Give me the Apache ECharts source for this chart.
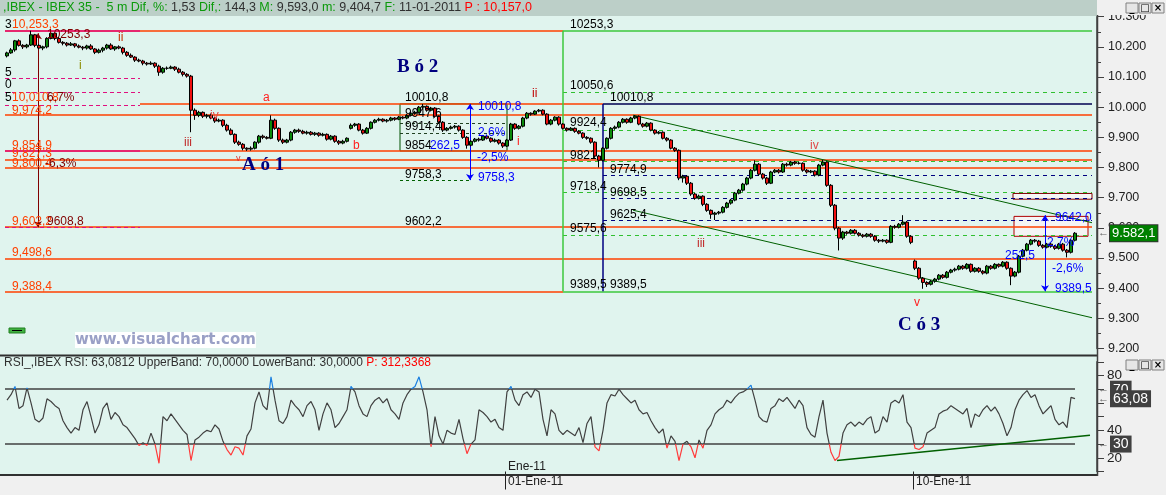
<!DOCTYPE html>
<html><head><meta charset="utf-8">
<script src="https://cdn.jsdelivr.net/npm/echarts@6/dist/echarts.min.js"></script>
<style>html,body{margin:0;padding:0;background:#e0f4ee}#c{width:1166px;height:495px}</style>
</head><body><div id="c"></div>
<script>
// ---- DATA (5-min bars, consolidated) ----
const opens = [10170,10180,10190,10220,10205,10200,10206,10240,10205,10196,
10200,10228,10245,10228,10215,10212,10206,10210,10203,10199,
10196,10203,10193,10182,10189,10196,10206,10193,10200,10196,
10182,10172,10166,10156,10153,10146,10143,10146,10136,10116,
10129,10129,10133,10126,10116,10109,10103,9990,9973,9983,
9970,9973,9964,9954,9957,9940,9924,9910,9884,9877,
9864,9861,9864,9884,9904,9900,9897,9957,9930,9891,
9884,9891,9917,9924,9920,9914,9917,9910,9914,9907,
9910,9894,9904,9887,9881,9887,9930,9940,9944,9924,
9914,9930,9950,9957,9960,9954,9957,9964,9960,9967,
9964,9973,9980,9983,10000,10003,9990,9997,9970,9950,
9924,9930,9934,9937,9924,9900,9874,9887,9894,9891,
9904,9897,9887,9891,9881,9871,9891,9944,9930,9937,
9964,9980,9977,9987,9990,9977,9944,9957,9967,9944,
9930,9924,9930,9920,9914,9900,9897,9884,9838,9824,
9864,9897,9930,9934,9950,9960,9950,9964,9970,9944,
9937,9947,9924,9914,9917,9897,9891,9864,9857,9765,
9771,9748,9712,9698,9705,9678,9658,9645,9649,9652,
9668,9682,9692,9715,9725,9745,9765,9791,9811,9778,
9765,9748,9785,9791,9785,9811,9808,9818,9814,9814,
9791,9785,9788,9775,9808,9818,9741,9675,9599,9566,
9586,9582,9592,9582,9576,9572,9579,9572,9559,9556,
9559,9552,9605,9602,9612,9619,9572,9490,9466,9433,
9419,9413,9423,9430,9443,9436,9453,9460,9463,9473,
9466,9479,9456,9466,9456,9450,9473,9466,9479,9473,
9486,9466,9440,9453,9506,9526,9546,9559,9556,9542,
9536,9546,9539,9532,9546,9526,9519,9559];
const closes = [10180,10190,10220,10205,10200,10206,10240,10205,10196,10200,
10228,10245,10228,10215,10212,10206,10210,10203,10199,10196,
10203,10193,10182,10189,10196,10206,10193,10200,10196,10182,
10172,10166,10156,10153,10146,10143,10146,10136,10116,10129,
10129,10133,10126,10116,10109,10103,9990,9973,9983,9970,
9973,9964,9954,9957,9940,9924,9910,9884,9877,9864,
9861,9864,9884,9904,9900,9897,9957,9930,9891,9884,
9891,9917,9924,9920,9914,9917,9910,9914,9907,9910,
9894,9904,9887,9881,9887,9897,9940,9944,9924,9914,
9930,9950,9957,9960,9954,9957,9964,9960,9967,9964,
9973,9980,9983,10000,10003,9990,9997,9970,9950,9924,
9930,9934,9937,9924,9900,9874,9887,9894,9891,9904,
9897,9887,9891,9881,9871,9891,9944,9930,9937,9964,
9980,9977,9987,9990,9977,9944,9957,9967,9944,9930,
9924,9930,9920,9914,9900,9897,9884,9838,9824,9864,
9897,9930,9934,9950,9960,9950,9964,9970,9944,9937,
9947,9924,9914,9917,9897,9891,9864,9857,9765,9771,
9748,9712,9698,9705,9678,9658,9645,9649,9652,9668,
9682,9692,9715,9725,9745,9765,9791,9811,9778,9765,
9748,9785,9791,9785,9811,9808,9818,9814,9814,9791,
9785,9788,9775,9808,9818,9741,9675,9599,9566,9586,
9582,9592,9582,9576,9572,9579,9572,9559,9556,9559,
9552,9605,9602,9612,9619,9572,9552,9466,9433,9419,
9413,9423,9430,9443,9436,9453,9460,9463,9473,9466,
9479,9456,9466,9456,9450,9473,9466,9479,9473,9486,
9466,9440,9453,9506,9526,9546,9559,9556,9542,9536,
9546,9539,9532,9546,9526,9519,9559,9582.1];
const lows = [10165,10177,10184,10201,10193,10195,10203,10199,10192,10189,
10195,10225,10222,10211,10205,10201,10203,10197,10195,10189,
10191,10190,10176,10178,10182,10191,10190,10187,10192,10175,
10167,10163,10150,10149,10139,10138,10140,10130,10104,10111,
10124,10126,10120,10112,10102,10098,9917,9958,9967,9964,
9963,9960,9948,9950,9934,9919,9907,9878,9872,9857,
9855,9856,9860,9879,9894,9893,9894,9925,9885,9878,
9880,9887,9912,9915,9910,9909,9906,9905,9902,9903,
9889,9890,9882,9875,9877,9883,9926,9935,9920,9909,
9911,9926,9946,9953,9950,9949,9953,9955,9957,9960,
9960,9969,9975,9979,9995,9985,9986,9965,9945,9918,
9920,9926,9929,9919,9895,9862.5,9870,9883,9886,9888,
9893,9882,9883,9876,9865,9868,9888,9925,9926,9933,
9960,9972,9974,9983,9973,9940,9940,9953,9939,9926,
9919,9921,9915,9910,9895,9892,9879,9832,9800.5,9820,
9860,9893,9925,9930,9946,9945,9947,9960,9940,9932,
9933,9920,9909,9910,9893,9886,9860,9852,9758,9750,
9742,9706,9693,9694,9672,9653,9630,9626,9644,9648,
9664,9677,9688,9711,9720,9741,9761,9787,9772,9760,
9742,9745,9781,9780,9782,9803,9804,9809,9810,9786,
9780,9781,9770,9771,9804,9736,9669,9592,9525,9560,
9577,9578,9578,9571,9567,9568,9567,9554,9550,9552,
9547,9549,9597,9598,9608,9567,9546,9460,9428,9398,
9404,9409,9418,9426,9431,9432,9449,9455,9459,9461,
9462,9451,9452,9451,9445,9446,9461,9462,9468,9469,
9461,9410,9436,9449,9502,9522,9542,9551,9537,9531,
9532,9534,9527,9528,9521,9502,9515,9555];
const highs = [10184,10196,10223,10225,10209,10210,10253.3,10243,10210,10204,
10232,10253,10248,10233,10219,10216,10216,10213,10208,10203,
10207,10209,10196,10194,10200,10210,10212,10203,10205,10200,
10186,10178,10169,10161,10157,10150,10152,10149,10141,10133,
10135,10138,10136,10131,10120,10113,10107,9996,9988,9986,
9978,9979,9967,9962,9960,9945,9930,9913,9889,9881,
9867,9870,9887,9908,9909,9904,9973,9962,9933,9896,
9895,9921,9928,9929,9925,9922,9921,9918,9917,9915,
9913,9908,9907,9891,9892,9900,9946,9948,9947,9928,
9934,9953,9961,9965,9963,9961,9968,9967,9971,9970,
9977,9984,9988,10004,10010.8,10006,10001,10000,9973,9954,
9934,9939,9941,9940,9927,9904,9891,9898,9899,9908,
9908,9900,9896,9894,9884,9895,9948,9947,9941,9968,
9984,9983,9990,9994,9993,9980,9961,9970,9970,9947,
9933,9934,9933,9924,9917,9904,9900,9887,9842,9868,
9900,9934,9939,9954,9964,9963,9968,9974.2,9973,9948,
9951,9950,9927,9921,9920,9901,9894,9868,9860,9776,
9775,9752,9716,9710,9708,9682,9661,9653,9656,9672,
9686,9696,9719,9729,9749,9769,9795,9824,9815,9782,
9769,9789,9795,9795,9815,9816,9822,9822,9819,9817,
9795,9792,9791,9812,9825,9821,9745,9679,9603,9590,
9590,9596,9596,9586,9580,9583,9583,9576,9563,9563,
9562,9609,9610,9616,9642,9623,9576,9495,9470,9437,
9423,9427,9434,9447,9447,9457,9464,9468,9477,9477,
9483,9482,9470,9470,9460,9477,9477,9483,9482,9490,
9489,9469,9457,9510,9530,9550,9563,9563,9560,9546,
9550,9550,9543,9550,9550,9530,9563,9586];
const rsi = [62,66,72,56,58,71,60,48,46,49,
63,61,58,56,47,42,38,42,40,55,
61,50,38,44,56,60,48,53,50,44,
42,38,34,29,31,29,38,30,16,50,
47,52,48,44,40,37,18,33,35,38,
40,39,44,41,32,26,22,28,27,22,
36,41,60,68,58,55,79,62,47,45,
50,62,58,55,50,58,61,55,40,52,
60,55,42,45,50,55,72,68,58,52,
50,58,62,64,60,63,55,52,48,60,
66,70,72,79,68,55,28,50,36,30,
40,38,37,48,34,23,30,33,55,53,
50,46,48,42,40,68,72,62,58,66,
68,64,70,68,48,36,55,52,40,37,
40,38,36,42,31,45,50,28,25,40,
60,66,65,70,66,63,60,62,55,52,
53,47,42,38,41,27,36,32,18,30,
32,28,20,33,27,40,44,52,55,57,
62,60,64,67,68,70,73,62,50,47,
46,56,58,63,61,64,60,56,62,58,
42,37,35,50,62,38,24,18,21,38,
44,46,43,46,44,48,50,38,40,50,
46,60,62,60,66,46,42,27,26,28,
38,40,42,52,54,55,58,56,54,52,
56,42,52,50,55,58,54,57,52,45,
36,42,55,62,66,69,64,66,58,52,
55,58,48,44,46,42,64,63.08];
const dateTickPos = [124.5, 226.5];
const dateTickTop = ['Ene-11', ' '];
const dateTickBottom = ['01-Ene-11', '10-Ene-11'];
const lastPrice = 9582.1;
const lastRsi = 63.08;
const upperBand = 70, lowerBand = 30;

// ---- CHART ----
const FONT = 'Liberation Sans';
const chart = echarts.init(document.getElementById('c'));
const candleData = closes.map((c, i) => [i, opens[i], c, lows[i], highs[i]]);
const rsiData = rsi.map((r, i) => [i, r]);

const ORANGE = '#ff4000', MAG = '#e0107f', GREEN = '#30c030', GREEN2 = '#3cc83c',
      NAVY = '#000080', DGREEN = '#006000', BLUE = '#0000ff', DRED = '#800000';
const L = -0.5, R = 271.25, XG = 139, XN = 149, XM = 33.25;
const CLEAR = 'rgba(0,0,0,0)';

function H(p, a, b, color, width, type) {
  return [{coord: [a, p], lineStyle: {color: color, width: width || 1, type: type || 'solid'}}, {coord: [b, p]}];
}
function V(v, p1, p2, color, width, arrows) {
  const s = arrows ? 'arrow' : 'none';
  return [{coord: [v, p1], symbol: s, lineStyle: {color: color, width: width || 1, type: 'solid'}}, {coord: [v, p2], symbol: s}];
}
function T(text, v, p, color, size, extra) {
  return {coord: [v, p], symbol: 'circle', symbolSize: 0,
    label: Object.assign({show: true, position: 'right', distance: 0, formatter: text,
      color: color || '#000', fontSize: size || 12, fontFamily: FONT}, extra || {})};
}
const DASH = [4, 3];
const mainLines = [
  H(10253.3, L, XG, ORANGE, 1.5), H(10253.3, L, XM, MAG, 1.5), H(10253.3, XG, R, GREEN2, 1.5),
  H(10095, L, XM, MAG, 1, DASH), H(10049, L, XM, MAG, 1, DASH), H(10008, L, XM, MAG, 1, DASH),
  H(10010.8, XM, XN, ORANGE, 1.5), H(10010.8, XN, R, '#000050', 1.5),
  H(9974.2, L, R, ORANGE, 1.5),
  H(9854.9, L, R, ORANGE, 1.5), H(9854.9, L, XM, MAG, 1.5),
  H(9827.3, L, R, ORANGE, 1.5), H(9800.4, L, R, ORANGE, 1.5),
  H(9602.2, L, R, ORANGE, 1.5), H(9602.2, L, XM, MAG, 1, DASH),
  H(9498.6, L, R, ORANGE, 1.5),
  H(9388.4, L, XG, ORANGE, 1.5), H(9389.5, XG, R, GREEN2, 1.5),
  H(10050.6, XG, R, GREEN, 1, [4, 4]), H(9924.4, XG, R, GREEN, 1, [4, 4]), H(9821, XG, R, GREEN, 1, [4, 4]),
  H(9718.4, XG, R, GREEN, 1, [4, 4]), H(9575.6, XG, R, GREEN, 1, [4, 4]),
  H(9774.9, XN, R, NAVY, 1, [4, 4]), H(9698.5, XN, R, NAVY, 1, [4, 4]), H(9625.4, XN, R, NAVY, 1, [4, 4]),
  H(9947.6, 98.25, 125, '#204020', 1, [3, 3]), H(9914.4, 98.25, 125, '#204020', 1, [3, 3]),
  H(9758.3, 98.25, 115.75, DGREEN, 1, [3, 3]),
  V(XG, 10253.3, 9389.5, GREEN2, 1.5), V(XN, 10010.8, 9389.5, NAVY, 1.5),
  V(7.75, 10245, 9602, DRED, 1, true),
  V(115.75, 10010.8, 9758.3, BLUE, 1, true),
  V(259.5, 9642, 9389.5, BLUE, 1, true),
  [{coord: [156.5, 9973.5], lineStyle: {color: DGREEN, width: 1, type: 'solid'}}, {coord: [271.25, 9617]}],
  [{coord: [156.5, 9658.5], lineStyle: {color: DGREEN, width: 1, type: 'solid'}}, {coord: [271.25, 9302]}],
  {yAxis: lastPrice, lineStyle: {color: CLEAR, width: 0}, label: {show: true, position: 'end', distance: 1,
    formatter: '{a|←}{b|9.582,1}',
    rich: {a: {color: '#606060', fontSize: 11, padding: [0, 1, 0, 0]},
           b: {color: '#ffffff', backgroundColor: '#008000', borderColor: '#333', borderWidth: 1,
               fontSize: 13, fontFamily: FONT, padding: [2, 2, 1, 2]}}}}
];
const serifBold = {fontFamily: 'Liberation Serif', fontWeight: 'bold'};
const texts = [
  T('10,253,3', 1.25, 10272, ORANGE), T('10,010,8', 1.25, 10030, ORANGE), T('9,974,2', 1.25, 9990, ORANGE),
  T('9,854,9', 1.25, 9871, ORANGE), T('9,827,3', 1.25, 9847, ORANGE), T('9,800,4', 1.25, 9814, ORANGE),
  T('9,602,2', 1.25, 9619, ORANGE), T('9,498,6', 1.25, 9516, ORANGE), T('9,388,4', 1.25, 9406, ORANGE),
  T('3', -0.5, 10272, '#000'), T('5', -0.5, 10116, '#000'), T('0', -0.5, 10073, '#000'),
  T('5', -0.5, 10030, '#000'), T('14,5', -1, 9920, DRED),
  T('10253,3', 10, 10242, DRED), T('6,7%', 10, 10033, DRED), T('-6,3%', 9.5, 9814, DRED), T('9608,8', 10, 9619, DRED),
  T('i', 18, 10139, '#8c8c00'), T('ii', 27.75, 10229, '#c83000'), T('iii', 44.25, 9881, '#c02828'),
  T('iv', 50.75, 9973, '#e04848'), T('v', 57.25, 9831, '#e03030', 9), T('a', 64, 10030, '#ff2020'),
  T('b', 86.5, 9871, '#ff2020'), T('i', 127.5, 9884, '#ff2020'), T('ii', 131.25, 10046, '#c00000'),
  T('iii', 172.5, 9546, '#c02828'), T('iv', 200.75, 9871, '#e04848'), T('v', 226.75, 9353, '#ff2020'),
  T('B ó 2', 97.5, 10133, '#00007f', 19, serifBold), T('A ó 1', 58.75, 9808, '#00007f', 19, serifBold),
  T('C ó 3', 222.75, 9277, '#00007f', 19, serifBold),
  T('10010,8', 99.5, 10033, '#000'), T('9947,6', 99.5, 9980, '#000'), T('9914,4', 99.5, 9934, '#000'),
  T('9854', 99.5, 9871, '#000'), T('9758,3', 99.5, 9775, '#000'), T('9602,2', 99.5, 9619, '#000'),
  T('262,5', 105.75, 9871, BLUE), T('10010,8', 117.75, 10003, BLUE), T('2,6%', 117.75, 9917, BLUE),
  T('-2,5%', 117.5, 9831, BLUE), T('9758,3', 117.75, 9765, BLUE),
  T('10253,3', 140.75, 10272, '#000'), T('10050,6', 140.75, 10070, '#000'), T('9924,4', 140.75, 9947, '#000'),
  T('9821', 140.75, 9838, '#000'), T('9718,4', 140.75, 9738, '#000'), T('9575,6', 140.75, 9596, '#000'),
  T('9389,5', 140.75, 9413, '#000'),
  T('10010,8', 150.75, 10030, '#000'), T('9774,9', 150.75, 9794, '#000'), T('9698,5', 150.75, 9715, '#000'),
  T('9625,4', 150.75, 9645, '#000'), T('9389,5', 150.75, 9413, '#000'),
  T('9642,0', 262, 9635, BLUE), T('2,7%', 260, 9552, BLUE), T('-2,6%', 261.25, 9463, BLUE),
  T('9389,5', 262, 9397, BLUE), T('252,5', 249.5, 9509, BLUE)
];
const areas = [
  [{coord: [98.25, 10010.8], itemStyle: {color: CLEAR, borderColor: '#005000', borderWidth: 1}}, {coord: [125, 9854.9]}],
  [{coord: [251.5, 9714], itemStyle: {color: '#f6f6f6', borderColor: '#800000', borderWidth: 1}}, {coord: [271.25, 9695]}],
  [{coord: [251.75, 9638], itemStyle: {color: '#f4f4f4', borderColor: '#b00000', borderWidth: 1}}, {coord: [270.25, 9572]}]
];
function box(val, txt) {
  return {yAxis: val, lineStyle: {color: CLEAR, width: 0}, label: {show: true, position: 'end', distance: 1,
    formatter: '{a|←}{b|' + txt + '}',
    rich: {a: {color: '#606060', fontSize: 11, padding: [0, 1, 0, 0]},
           b: {color: '#ffffff', backgroundColor: '#404040', fontSize: 14, fontFamily: FONT, padding: [2, 3, 1, 3]}}}};
}
const rsiLines = [
  [{coord: [-0.5, upperBand], lineStyle: {color: '#404040', width: 1.5, type: 'solid'}}, {coord: [267, upperBand]}],
  [{coord: [-0.5, lowerBand], lineStyle: {color: '#404040', width: 1.5, type: 'solid'}}, {coord: [267, lowerBand]}],
  [{coord: [207.5, 18.1], lineStyle: {color: DGREEN, width: 1.5, type: 'solid'}}, {coord: [270.75, 36.5]}],
  box(upperBand, '70'), box(lastRsi, '63,08'), box(lowerBand, '30')
];

function btns(y) {
  const out = [];
  ['_', '□', '×'].forEach((s, k) => {
    out.push({type: 'rect', z: 101, shape: {x: 1126 + k * 13, y: y, width: 12, height: 10},
      style: {fill: '#e6e6e6', stroke: '#808080', lineWidth: 1}});
    out.push({type: 'text', z: 102, style: {text: s, x: 1132 + k * 13, y: y + 5, align: 'center',
      verticalAlign: 'middle', fill: '#000', font: 'bold 10px "DejaVu Sans"'}});
  });
  return out;
}

const option = {
  animation: false,
  backgroundColor: '#e0f4ee',
  textStyle: {fontFamily: FONT},
  title: [
    {left: 3, top: 1, padding: 0,
     text: '{g|,IBEX - IBEX 35 -  5 m Dif, %: }{k|1,53 }{g|Dif,: }{k|144,3 }{g|M: }{k|9,593,0 }{g|m: }{k|9,404,7 }{g|F: }{k|11-01-2011 }{r|P : 10,157,0}',
     textStyle: {fontSize: 12.5, fontWeight: 'normal', rich: {
       g: {color: '#0a9a0a', fontSize: 12.5, fontFamily: FONT},
       k: {color: '#303030', fontSize: 12.5, fontFamily: FONT},
       r: {color: '#ff0000', fontSize: 12.5, fontFamily: FONT}}}},
    {left: 4, top: 357, padding: 0,
     text: '{k|RSI_,IBEX RSI: 63,0812 UpperBand: 70,0000 LowerBand: 30,0000 }{r|P: 312,3368}',
     textStyle: {fontSize: 12, fontWeight: 'normal', rich: {
       k: {color: '#303030', fontSize: 12, fontFamily: FONT},
       r: {color: '#ff0000', fontSize: 12, fontFamily: FONT}}}}
  ],
  grid: [
    {left: 5, right: 69, top: 16.7, height: 331.8},
    {left: 5, right: 69, top: 361.75, height: 109.75}
  ],
  xAxis: [
    {type: 'value', gridIndex: 0, min: -0.5, max: 272.5, show: false},
    {type: 'value', gridIndex: 1, min: -0.5, max: 272.5,
     axisLine: {show: false, onZero: false}, splitLine: {show: false},
     axisTick: {show: true, customValues: dateTickPos, length: 18, lineStyle: {color: '#202020'}},
     axisLabel: {show: true, customValues: dateTickPos, align: 'left', margin: -12, padding: [0, 0, 0, 3],
       formatter: function (v) { const k = dateTickPos.indexOf(v); return k < 0 ? '' : '{u|' + dateTickTop[k] + '}\n{d|' + dateTickBottom[k] + '}'; },
       rich: {u: {fontSize: 12, lineHeight: 15, color: '#202020', fontFamily: FONT},
              d: {fontSize: 12, lineHeight: 15, color: '#202020', fontFamily: FONT}}}}
  ],
  yAxis: [
    {type: 'value', gridIndex: 0, position: 'right', min: 9200, max: 10300, interval: 100,
     axisLine: {show: true, onZero: false, lineStyle: {color: '#404040', width: 1.5}},
     axisTick: {show: true, length: 7, lineStyle: {color: '#404040'}},
     minorTick: {show: true, splitNumber: 2, length: 4, lineStyle: {color: '#404040'}},
     splitLine: {show: false},
     axisLabel: {margin: 11, fontSize: 12.5, color: '#202020', formatter: v => (v / 1000).toFixed(3)}},
    {type: 'value', gridIndex: 1, position: 'right', min: 10, max: 90, interval: 10,
     axisLine: {show: true, onZero: false, lineStyle: {color: '#404040', width: 1.5}},
     axisTick: {show: true, length: 7, lineStyle: {color: '#404040'}},
     splitLine: {show: false},
     axisLabel: {margin: 10, fontSize: 13.5, color: '#202020',
       formatter: v => (v === 20 || v === 40 || v === 80) ? String(v) : ''}}
  ],
  visualMap: [{type: 'piecewise', show: false, seriesIndex: 2, dimension: 1,
    pieces: [{lt: 30, color: '#ff3b3b'}, {gte: 30, lte: 70, color: '#404040'}, {gt: 70, color: '#1a7fe0'}]}],
  series: [
    {type: 'candlestick', xAxisIndex: 0, yAxisIndex: 0, z: 6, barWidth: 4, silent: true,
     encode: {x: 0, y: [1, 2, 3, 4]}, data: candleData,
     itemStyle: {color: '#0a8a0a', color0: '#f01010', borderColor: '#000', borderColor0: '#000', borderWidth: 1}},
    {type: 'line', xAxisIndex: 0, yAxisIndex: 0, data: [], silent: true,
     markLine: {silent: true, symbol: ['none', 'none'], symbolSize: 6, lineStyle: {type: 'solid'}, label: {show: false}, data: mainLines},
     markArea: {silent: true, label: {show: false}, data: areas},
     markPoint: {silent: true, z: 8, data: texts}},
    {type: 'line', xAxisIndex: 1, yAxisIndex: 1, data: rsiData, showSymbol: false, silent: true, z: 6,
     lineStyle: {width: 1.2},
     markLine: {silent: true, symbol: ['none', 'none'], lineStyle: {type: 'solid'}, label: {show: false}, data: rsiLines}}
  ],
  graphic: [
    {type: 'rect', z: -10, shape: {x: 1097, y: 0, width: 69, height: 495}, style: {fill: '#f0f0f0'}},
    {type: 'rect', z: -10, shape: {x: 0, y: 476, width: 1097, height: 19}, style: {fill: '#f0f0f0'}},
    {type: 'rect', z: -10, shape: {x: 0, y: 0, width: 1097, height: 16}, style: {fill: '#bccfc8'}},
    {type: 'rect', z: 100, shape: {x: 1097, y: 0, width: 69, height: 15}, style: {fill: '#f0f0f0'}},
    {type: 'line', z: 50, shape: {x1: 0, y1: 355.5, x2: 1097, y2: 355.5}, style: {stroke: '#303030', lineWidth: 2}},
    {type: 'line', z: 50, shape: {x1: 0, y1: 475, x2: 1097, y2: 475}, style: {stroke: '#303030', lineWidth: 2}},
    {type: 'line', z: 50, shape: {x1: 1097.5, y1: 15, x2: 1097.5, y2: 476}, style: {stroke: '#404040', lineWidth: 1.5}},
    {type: 'text', z: 20, style: {text: 'www.visualchart.com', x: 75, y: 340, verticalAlign: 'middle',
      fill: '#9aa0c6', font: 'bold 15px "DejaVu Sans"', backgroundColor: '#ffffff', padding: [1, 0, 0, 0]}},
    {type: 'rect', z: 20, shape: {x: 9, y: 328, width: 16, height: 5}, style: {fill: '#40b040', stroke: '#208020'}},
    {type: 'line', z: 21, shape: {x1: 12, y1: 330.5, x2: 22, y2: 330.5}, style: {stroke: '#000', lineWidth: 1}}
  ].concat(btns(3)).concat(btns(360))
};
chart.setOption(option);
</script>
</body></html>
